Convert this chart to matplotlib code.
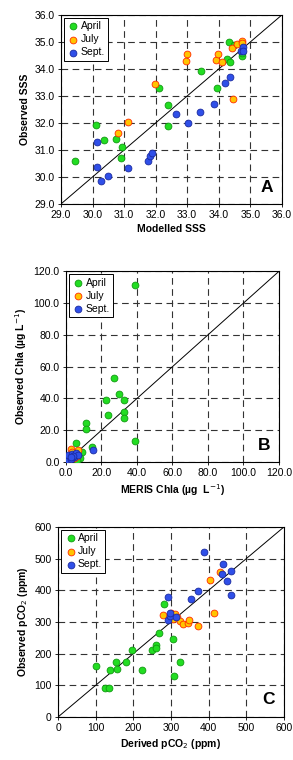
import matplotlib
matplotlib.use("Agg")
import matplotlib.pyplot as plt
import numpy as np

plt.rcParams['font.family'] = ['Liberation Sans', 'DejaVu Sans']

# Panel A: SSS
a_apr_x = [29.43, 30.12, 30.35, 30.73, 30.93, 30.90, 32.11, 32.38, 32.38, 33.43, 33.94, 34.32, 34.27, 34.36, 34.48, 34.75, 34.75]
a_apr_y = [30.60, 31.92, 31.37, 31.40, 31.11, 30.69, 33.31, 32.68, 31.88, 33.93, 33.28, 35.00, 34.38, 34.25, 34.90, 34.49, 34.60]
a_jul_x = [30.82, 31.12, 31.99, 32.97, 33.00, 33.90, 33.98, 34.09, 34.42, 34.58, 34.73, 34.75, 34.46]
a_jul_y = [31.62, 32.04, 33.43, 34.31, 34.56, 34.35, 34.56, 34.27, 34.77, 34.91, 35.02, 34.95, 32.88]
a_sep_x = [30.14, 30.14, 30.27, 30.49, 31.11, 31.77, 31.82, 31.88, 32.65, 33.01, 33.41, 33.84, 34.19, 34.35, 34.69, 34.76, 34.77]
a_sep_y = [31.31, 30.37, 29.86, 30.05, 30.33, 30.59, 30.79, 30.90, 32.32, 32.01, 32.40, 32.69, 33.47, 33.69, 34.68, 34.83, 34.65]

# Panel B: Chla
b_apr_x = [38.9, 27.2, 30.0, 22.7, 32.7, 23.7, 32.7, 32.7, 11.1, 11.1, 38.9, 5.8, 14.6, 9.2, 7.9, 4.0, 6.5]
b_apr_y = [111.4, 53.1, 43.0, 39.2, 39.2, 29.6, 31.5, 27.5, 24.5, 21.0, 13.4, 12.0, 9.6, 6.1, 2.7, 3.0, 1.5]
b_jul_x = [2.8, 5.0, 6.9, 1.5, 3.5, 4.5, 6.0]
b_jul_y = [8.4, 5.2, 7.3, 2.0, 6.5, 2.5, 4.0]
b_sep_x = [15.0, 0.0, 1.3, 3.2, 4.5, 5.6, 6.9, 2.6, 4.1, 3.0]
b_sep_y = [7.8, 1.5, 4.2, 5.2, 3.1, 5.9, 4.2, 2.1, 4.0, 3.5]

# Panel C: pCO2
c_apr_x = [101.8, 124.8, 136.3, 138.0, 153.0, 155.8, 180.5, 197.3, 222.9, 249.6, 261.0, 261.0, 268.1, 281.4, 305.3, 307.8, 322.9]
c_apr_y = [159.7, 90.4, 92.5, 149.2, 172.3, 152.4, 174.4, 210.1, 148.1, 211.2, 225.9, 218.6, 265.8, 358.3, 246.9, 130.3, 174.4]
c_jul_x = [278.8, 299.0, 304.4, 311.4, 315.9, 323.9, 332.7, 346.0, 346.9, 372.6, 404.4, 414.2, 431.0]
c_jul_y = [321.5, 328.9, 311.0, 325.7, 314.2, 303.7, 292.1, 296.3, 305.8, 285.8, 434.0, 326.8, 459.2]
c_sep_x = [291.0, 292.9, 296.5, 298.2, 312.4, 352.2, 371.7, 386.7, 434.5, 438.0, 448.7, 458.4, 458.4]
c_sep_y = [305.8, 380.4, 318.4, 326.8, 317.3, 374.1, 397.2, 522.2, 452.9, 482.3, 430.8, 460.2, 384.6]

series_labels = ['April', 'July', 'Sept.']
face_colors = ['#22dd22', '#ffc400', '#2f4fe8']
edge_colors = ['#119911', '#ff2a00', '#1a2aa0']

fig = plt.figure(figsize=(2.93, 7.6), dpi=100)

panels = [
    dict(rect=[0.208, 0.7316, 0.754, 0.2487], lim=(29, 36), ticks=np.arange(29, 36.01, 1.0), fmt='{:.1f}',
         data=[(a_apr_x, a_apr_y), (a_jul_x, a_jul_y), (a_sep_x, a_sep_y)],
         xlabel='Modelled SSS', ylabel='Observed SSS', tag='A'),
    dict(rect=[0.225, 0.392, 0.727, 0.251], lim=(0, 120), ticks=np.arange(0, 120.1, 20), fmt='{:.1f}',
         data=[(b_apr_x, b_apr_y), (b_jul_x, b_jul_y), (b_sep_x, b_sep_y)],
         xlabel='MERIS Chla (µg  L$^{-1}$)', ylabel='Observed Chla (µg L$^{-1}$)', tag='B'),
    dict(rect=[0.198, 0.0566, 0.771, 0.25], lim=(0, 600), ticks=np.arange(0, 601, 100), fmt='{:.0f}',
         data=[(c_apr_x, c_apr_y), (c_jul_x, c_jul_y), (c_sep_x, c_sep_y)],
         xlabel='Derived pCO$_2$ (ppm)', ylabel='Observed pCO$_2$ (ppm)', tag='C'),
]

for p in panels:
    ax = fig.add_axes(p['rect'])
    lo, hi = p['lim']
    ax.set_xlim(lo, hi)
    ax.set_ylim(lo, hi)
    ax.set_xticks(p['ticks'])
    ax.set_yticks(p['ticks'])
    ax.set_xticklabels([p['fmt'].format(t) for t in p['ticks']])
    ax.set_yticklabels([p['fmt'].format(t) for t in p['ticks']])
    ax.grid(True, color='#333333', linestyle=(0, (6, 4)), linewidth=0.8)
    ax.set_axisbelow(True)
    ax.plot([lo, hi], [lo, hi], color='black', linewidth=0.7, zorder=2)
    for (xs, ys), lab, fc, ec in zip(p['data'], series_labels, face_colors, edge_colors):
        ax.scatter(xs, ys, s=24, facecolor=fc, edgecolor=ec, linewidth=0.6, label=lab, zorder=3)
    ax.tick_params(labelsize=7.5, length=2.5, width=0.6, direction='out', pad=2)
    for s in ax.spines.values():
        s.set_linewidth(0.8)
    ax.set_xlabel(p['xlabel'], fontsize=7.5, fontweight='bold', labelpad=3)
    ax.set_ylabel(p['ylabel'], fontsize=7.5, fontweight='bold', labelpad=3)
    ax.text(0.96, 0.05, p['tag'], transform=ax.transAxes, fontsize=12.5, fontweight='bold',
            ha='right', va='bottom', zorder=5)
    leg = ax.legend(loc='upper left', fontsize=7.5, frameon=True, fancybox=False, framealpha=1,
                    edgecolor='black', borderaxespad=0.3, handletextpad=0.1, borderpad=0.3,
                    labelspacing=0.3, handlelength=1.2, markerscale=1.0)
    leg.get_frame().set_linewidth(0.7)

fig.savefig('out.png', dpi=100)
